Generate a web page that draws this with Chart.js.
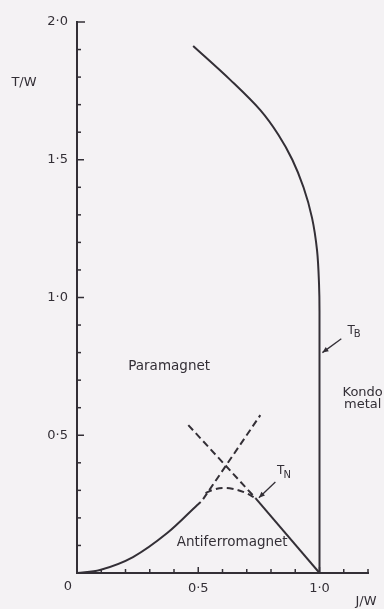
<!DOCTYPE html>
<html>
<head>
<meta charset="utf-8">
<title>T/W phase diagram</title>
<script src="https://cdn.jsdelivr.net/npm/chart.js@4.4.1/dist/chart.umd.min.js"></script>
<style>
  html, body { margin: 0; padding: 0; background: #f4f2f4; }
  #wrap { width: 384px; height: 609px; }
</style>
</head>
<body>
<div id="wrap"><canvas id="c" width="384" height="609"></canvas></div>
<script>
// Phase boundaries, J/W on x and T/W on y
const tbJ = [0.479, 0.632, 0.756, 0.831, 0.888, 0.934, 0.969, 0.990, 0.998, 1.0, 1.0];
const tbT = [1.913, 1.79, 1.68, 1.59, 1.50, 1.40, 1.29, 1.17, 1.05, 0.95, 0.0];

// Solid antiferromagnet boundary, low-J side
const afJ = [0.0, 0.095, 0.231, 0.372, 0.496, 0.51];
const afT = [0.0, 0.011, 0.058, 0.145, 0.247, 0.258];

// Solid antiferromagnet boundary, high-J side
const afHiJ = [0.736, 1.0];
const afHiT = [0.272, 0.0];

// Dashed continuations crossing above the dome
const riseJ = [0.52, 0.756];
const riseT = [0.268, 0.573];
const fallJ = [0.459, 0.736];
const fallT = [0.537, 0.272];

// Dashed T_N dome
const domeJ = [0.53, 0.565, 0.603, 0.645, 0.69, 0.736];
const domeT = [0.29, 0.303, 0.309, 0.305, 0.293, 0.272];

// Tick labels
const xTickVals = [0.5, 1.0];
const yTickVals = [0.5, 1.0, 1.5, 2.0];

const INK = '#332f36';
const FONT = '"DejaVu Sans", sans-serif';

const pts = (xs, ys) => xs.map((x, i) => ({ x: x, y: ys[i] }));
const fmt = v => v.toFixed(1).replace('.', '\u00b7');

function line(xs, ys, dashed, tension) {
  return {
    data: pts(xs, ys),
    showLine: true,
    borderColor: INK,
    borderWidth: 2,
    borderDash: dashed ? [7, 4] : [],
    pointRadius: 0,
    tension: tension || 0,
    fill: false
  };
}

// T_B falls monotonically in T, so interpolate along the T axis
const tbLine = Object.assign(line(tbJ, tbT, false, 0), {
  indexAxis: 'y',
  cubicInterpolationMode: 'monotone'
});

const decor = {
  id: 'decor',
  afterDraw(chart) {
    const ctx = chart.ctx;
    const xs = chart.scales.x, ys = chart.scales.y;
    const px = v => xs.getPixelForValue(v);
    const py = v => ys.getPixelForValue(v);
    const x0 = px(0), y0 = py(0);
    ctx.save();
    ctx.strokeStyle = INK;
    ctx.fillStyle = INK;
    ctx.lineWidth = 1.5;
    // inward ticks every 0.1
    for (let i = 1; i <= 12; i++) {
      const v = i / 10;
      const len = (i % 5 === 0) ? 6 : 4;
      ctx.beginPath();
      ctx.moveTo(px(v), y0);
      ctx.lineTo(px(v), y0 - len);
      ctx.stroke();
    }
    for (let i = 1; i <= 20; i++) {
      const v = i / 10;
      const len = (i === 20) ? 8 : ((i % 5 === 0) ? 7 : 4);
      ctx.beginPath();
      ctx.moveTo(x0, py(v));
      ctx.lineTo(x0 + len, py(v));
      ctx.stroke();
    }
    // pointer arrows
    function arrow(x1, y1, x2, y2) {
      const a = Math.atan2(y2 - y1, x2 - x1);
      ctx.lineWidth = 1.3;
      ctx.beginPath();
      ctx.moveTo(x1, y1);
      ctx.lineTo(x2, y2);
      ctx.stroke();
      const h = 6, w = 2.6;
      ctx.beginPath();
      ctx.moveTo(x2, y2);
      ctx.lineTo(x2 - h * Math.cos(a) + w * Math.sin(a), y2 - h * Math.sin(a) - w * Math.cos(a));
      ctx.lineTo(x2 - h * Math.cos(a) - w * Math.sin(a), y2 - h * Math.sin(a) + w * Math.cos(a));
      ctx.closePath();
      ctx.fill();
    }
    arrow(px(1.09), py(0.85), px(1.012), py(0.80));
    arrow(px(0.818), py(0.33), px(0.75), py(0.273));

    // region names
    ctx.textAlign = 'center';
    ctx.textBaseline = 'middle';
    ctx.font = '13.5px ' + FONT;
    ctx.fillText('Paramagnet', px(0.38), py(0.75));
    ctx.fillText('Antiferromagnet', px(0.64), py(0.109));
    ctx.font = '13px ' + FONT;
    ctx.fillText('Kondo', px(1.178), py(0.655));
    ctx.fillText('metal', px(1.178), py(0.612));
    // T_B, T_N
    function sub(main, s, x, y) {
      ctx.font = '12px ' + FONT;
      ctx.textAlign = 'left';
      ctx.fillText(main, x, y);
      const w = ctx.measureText(main).width;
      ctx.font = '10px ' + FONT;
      ctx.fillText(s, x + w - 1, y + 4);
    }
    sub('T', 'B', px(1.115), py(0.88));
    sub('T', 'N', px(0.825), py(0.37));
    // axis names and origin
    ctx.font = '13px ' + FONT;
    ctx.textAlign = 'center';
    ctx.fillText('0', x0 - 9, y0 + 14);
    ctx.fillText('T/W', 24, py(1.78));
    ctx.fillText('J/W', 366, 602);
    ctx.restore();
  }
};

new Chart(document.getElementById('c'), {
  type: 'scatter',
  data: {
    datasets: [
      tbLine,
      line(afJ, afT, false, 0.35),
      line(afHiJ, afHiT, false, 0),
      line(riseJ, riseT, true, 0),
      line(fallJ, fallT, true, 0),
      line(domeJ, domeT, true, 0.4)
    ]
  },
  plugins: [decor],
  options: {
    responsive: false,
    animation: false,
    devicePixelRatio: 1,
    layout: { padding: { left: 0, right: 16, top: 22, bottom: 0 } },
    plugins: { legend: { display: false }, tooltip: { enabled: false } },
    scales: {
      x: {
        type: 'linear', min: 0, max: 1.2,
        grid: { display: false, drawTicks: false },
        border: { display: true, color: INK, width: 2 },
        afterBuildTicks: s => { s.ticks = xTickVals.map(v => ({ value: v })); },
        afterFit: s => { s.height = 36; },
        ticks: {
          callback: v => fmt(v),
          color: INK, padding: 8,
          font: { family: FONT, size: 13 },
          maxRotation: 0
        }
      },
      y: {
        type: 'linear', min: 0, max: 2.0,
        grid: { display: false, drawTicks: false },
        border: { display: true, color: INK, width: 2 },
        afterBuildTicks: s => { s.ticks = yTickVals.map(v => ({ value: v })); },
        afterFit: s => { s.width = 77; },
        ticks: {
          callback: v => fmt(v),
          color: INK, padding: 9,
          font: { family: FONT, size: 13 }
        }
      }
    }
  }
});
</script>
</body>
</html>
